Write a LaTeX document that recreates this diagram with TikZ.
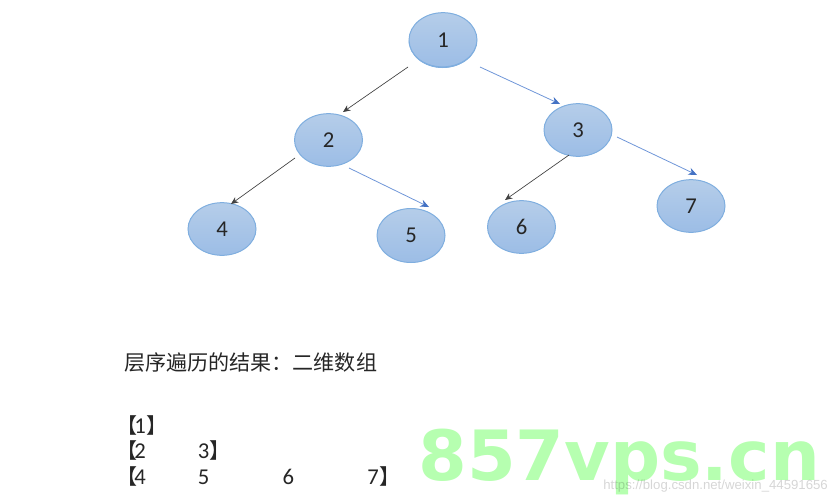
\documentclass[tikz,border=0pt]{standalone}
\usepackage{fontspec}
\usepackage{graphicx}
\setmainfont{Carlito}
\newfontfamily\cjkf{Noto Sans CJK SC}
\newfontfamily\wmf{DejaVu Sans}
\newfontfamily\urlf{Liberation Sans}
\usetikzlibrary{shapes.geometric,arrows.meta}
\definecolor{edgeblue}{HTML}{6F96D8}
\definecolor{tipblue}{HTML}{4472C4}
\definecolor{nodeline}{HTML}{7FAEDF}
\definecolor{nodetop}{HTML}{B5CDE9}
\definecolor{nodebot}{HTML}{9CBDE6}
\definecolor{wmgreen}{HTML}{B6FFB0}
\definecolor{inktxt}{HTML}{262626}
\newcommand{\lbk}{{\cjkf\fontsize{15.8}{15.8}\selectfont【}\hspace{-2.25pt}}
\newcommand{\rbk}{\hspace{0.2pt}{\cjkf\fontsize{15.8}{15.8}\selectfont】}}
\tikzset{
  x=0.75pt,y=-0.75pt,
  tnode/.style={ellipse,draw=nodeline,line width=0.75pt,top color=nodetop,bottom color=nodebot,
    minimum width=51pt,minimum height=39.5pt,inner sep=0pt,font=\fontsize{17}{17}\selectfont,text=inktxt},
  blk/.style={draw=black!75,line width=0.5pt,-{Stealth[length=5.5pt,width=4.8pt]}},
  blu/.style={draw=edgeblue,line width=0.6pt,-{Stealth[length=6.5pt,width=5.5pt,color=tipblue]}},
  label/.style={anchor=west,inner sep=0pt,text=inktxt,font=\fontsize{17}{17}\selectfont}
}
\begin{document}
\begin{tikzpicture}
\useasboundingbox (0,0) rectangle (834,500);
\node[tnode,minimum height=41pt] (n1) at (443,40) {1};
\fill[nodeline] (n1.west) arc[start angle=180,end angle=360,x radius=25.5pt,y radius=21pt]
  arc[start angle=360,end angle=180,x radius=25.5pt,y radius=19.8pt];
\node[tnode] (n2) at (328.5,140) {2};
\node[tnode] (n3) at (578,130) {3};
\node[tnode] (n4) at (222,229) {4};
\node[tnode,minimum height=40.5pt] (n5) at (411,235.5) {5};
\node[tnode] (n6) at (521.5,227) {6};
\node[tnode] (n7) at (691,206) {7};
\draw[blk] ([shift={(-35,27)}]n1.center) -- ([shift={(14.5,-28)}]n2.center);
\draw[blu] ([shift={(37,27)}]n1.center) -- ([shift={(-18,-26)}]n3.center);
\draw[blk] ([shift={(-33.5,18)}]n2.center) -- ([shift={(9,-25)}]n4.center);
\draw[blu] ([shift={(20.5,28)}]n2.center) -- ([shift={(18,-28.5)}]n5.center);
\draw[blk] ([shift={(-9,25)}]n3.center) -- ([shift={(-16.5,-27)}]n6.center);
\draw[blu] ([shift={(39,7)}]n3.center) -- ([shift={(6,-31)}]n7.center);
\node[label,font=\fontsize{15.8}{15.8}\selectfont] (title) at (124,363) {\cjkf 层序遍历的结果：二维数组};
\node[label] (row1) at (116,425) {\lbk 1\rbk};
\node[label] (row2) at (116,450) {\lbk 2\hspace{39pt}3\rbk};
\node[label] (row3) at (116,476) {\lbk 4\hspace{39pt}5\hspace{55pt}6\hspace{55pt}7\rbk};
\node[anchor=base west,inner sep=0pt,text=wmgreen,font=\wmf\bfseries\fontsize{52}{52}\selectfont] (wm) at (418,480) {\scalebox{1.01}[1]{857vps.cn}};
\node[anchor=base west,inner sep=0pt,text=black,opacity=0.16,font=\urlf\fontsize{9.9}{9.9}\selectfont] (url) at (603,489) {https://blog.csdn.net/weixin\_44591656};
\end{tikzpicture}
\end{document}
